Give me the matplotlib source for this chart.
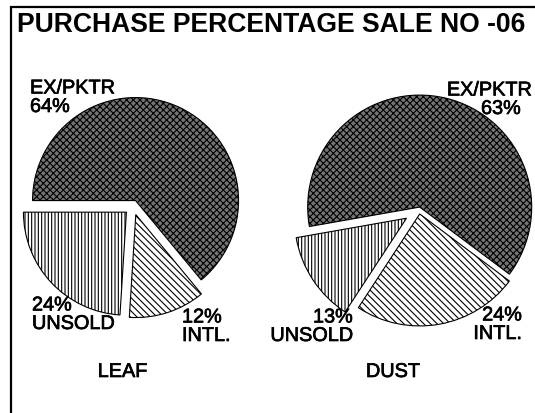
import matplotlib.pyplot as plt
import matplotlib.patheffects as pe
from matplotlib.patches import Rectangle

# data
categories = ['EX/PKTR', 'INTL.', 'UNSOLD']
leaf_values = [64, 12, 24]
dust_values = [63, 24, 13]
pie_names = ['LEAF', 'DUST']
title = 'PURCHASE PERCENTAGE SALE NO -06'

W, H = 535, 414
plt.rcParams['font.family'] = ['Liberation Sans', 'DejaVu Sans']
plt.rcParams['hatch.linewidth'] = 0.8

fig = plt.figure(figsize=(W / 100, H / 100), dpi=100)
ax = fig.add_axes([0, 0, 1, 1])
ax.axis('off')


def Y(y):
    # image row -> data y
    return H - y


# hatch density: each character = 6 lines per inch
hatches = ['xxxxx', '\\\\\\\\\\', '|||||']
faces = ['#747474', 'white', 'white']


def draw_pie(values, center, radius, start, explode):
    # hatched fill
    wedges, _ = ax.pie(values, center=center, radius=radius, startangle=start,
                       counterclock=False, explode=explode)
    for w, h, fc in zip(wedges, hatches, faces):
        w.set_facecolor(fc)
        w.set_edgecolor('black')
        w.set_linewidth(0)
        w.set_hatch(h)
    # outline
    ax.pie(values, center=center, radius=radius, startangle=start,
           counterclock=False, explode=explode,
           wedgeprops=dict(fill=False, edgecolor='black', linewidth=0.8))


# explode is in data units here (pixels), since radius is not 1
draw_pie(leaf_values, (133, Y(207)), 103, 180, [6, 9, 9])
draw_pie(dust_values, (419, Y(211)), 112, 190, [3, 4, 15])
ax.set_xlim(0, W)
ax.set_ylim(0, H)
ax.set_aspect('equal')

fs = 14.3
ls = 0.97
# slightly heavier label text, like the original
heavy = dict(fontsize=fs, va='baseline', linespacing=ls,
             path_effects=[pe.withStroke(linewidth=0.5, foreground='black')])

# leaf labels
ax.text(30, Y(113), f'{categories[0]}\n{leaf_values[0]}%', ha='left', **heavy)
ax.text(182, Y(342), f'{leaf_values[1]}%\n{categories[1]}', ha='left', **heavy)
ax.text(32, Y(330), f'{leaf_values[2]}%\n{categories[2]}', ha='left', **heavy)

# dust labels
ax.text(532, Y(115), f'{categories[0]}\n{dust_values[0]}%  ', ha='right', **heavy)
ax.text(522, Y(340), f'{dust_values[1]}%\n{categories[1]}', ha='right', **heavy)
ax.text(353, Y(342), f'{dust_values[2]}%\n{categories[2]}', ha='right', **heavy)

ax.text(122.5, Y(378), pie_names[0], ha='center', **heavy)
ax.text(393, Y(378), pie_names[1], ha='center', **heavy)

# title and frame
ax.text(17, Y(32), title, fontsize=19.1, fontweight='bold', ha='left')
ax.add_patch(Rectangle((11, Y(430)), 540, 422, fill=False,
                       edgecolor='black', linewidth=1.6, clip_on=False))

fig.savefig('out.png', dpi=100)
